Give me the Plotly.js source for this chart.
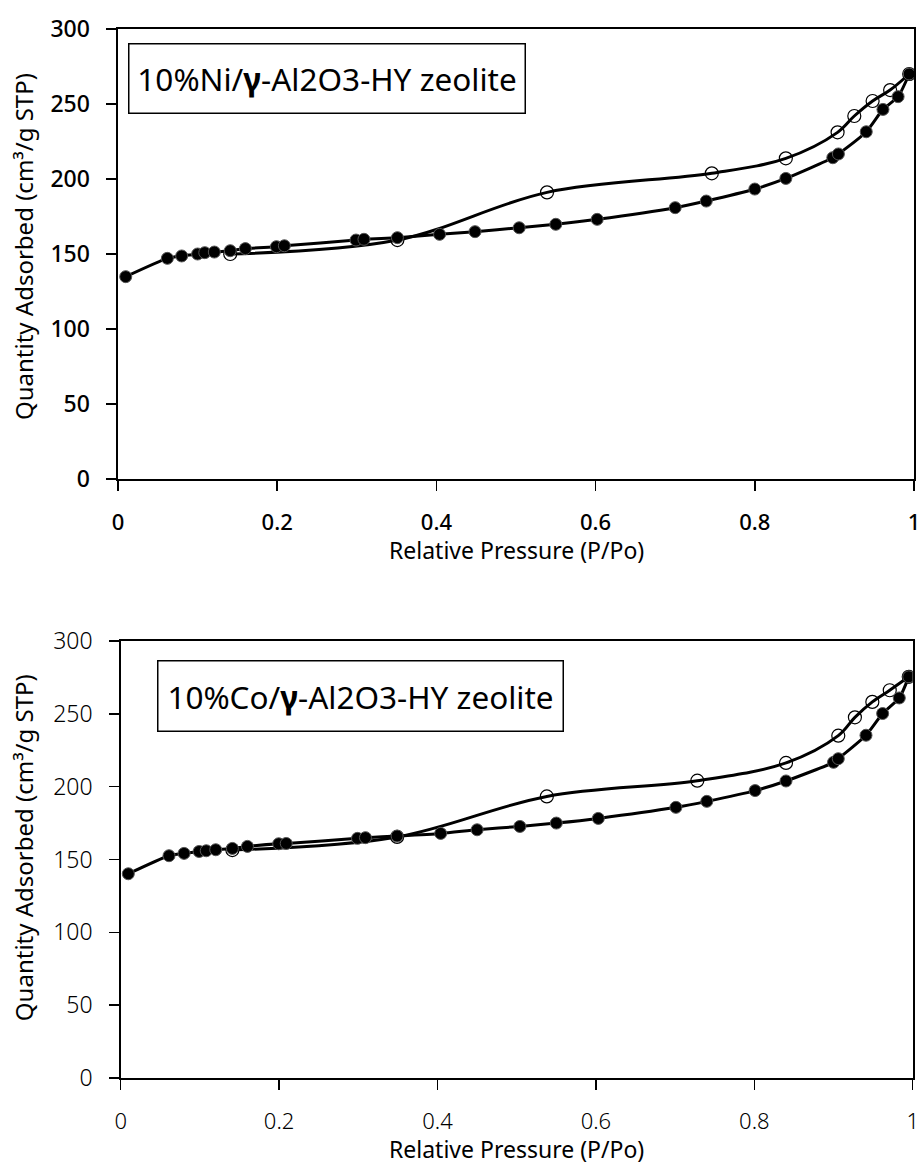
<!DOCTYPE html>
<html>
<head>
<meta charset="utf-8">
<script src="https://cdn.plot.ly/plotly-3.0.1.min.js"></script>
<style>html,body{margin:0;padding:0;background:#fff;}#chart{width:920px;height:1165px;}</style>
</head>
<body>
<div id="chart"></div>
<script>
// ---- Data: 10%Ni/γ-Al2O3-HY zeolite ----
const niAdsX = [0.0097,0.062,0.080,0.100,0.109,0.121,0.141,0.160,0.199,0.209,0.299,0.309,0.351,0.404,0.4485,0.504,0.550,0.602,0.700,0.739,0.800,0.839,0.898,0.905,0.940,0.961,0.980,0.994];
const niAdsY = [134.9,147.1,148.7,150.0,150.9,151.3,152.2,153.6,154.9,155.5,159.3,159.8,160.9,163.1,164.9,167.5,169.8,173.1,180.9,185.3,193.3,200.4,214.2,216.7,231.5,246.4,254.9,270.0];
const niDesX = [0.994,0.970,0.948,0.925,0.904,0.839,0.746,0.539,0.351,0.141];
const niDesY = [270.0,259.3,252.0,242.0,231.1,213.8,203.8,191.1,159.3,150.0];

// ---- Data: 10%Co/γ-Al2O3-HY zeolite ----
const coAdsX = [0.0096,0.061,0.080,0.099,0.108,0.120,0.141,0.160,0.1995,0.209,0.299,0.309,0.349,0.404,0.450,0.504,0.550,0.603,0.701,0.740,0.801,0.840,0.900,0.906,0.941,0.962,0.983,0.995];
const coAdsY = [140.2,152.6,154.2,155.5,156.0,156.7,157.6,159.0,160.8,161.0,164.5,165.0,166.1,167.9,170.4,172.7,175.0,178.2,185.8,189.9,197.3,203.9,216.7,219.2,235.3,250.2,260.9,275.4];
const coDesX = [0.995,0.971,0.949,0.927,0.906,0.840,0.728,0.538,0.349,0.141];
const coDesY = [275.4,266.2,258.2,247.6,235.0,216.3,204.1,193.3,165.5,156.5];

const labelNi = '10%Ni/<b>γ</b>-Al2O3-HY zeolite';
const labelCo = '10%Co/<b>γ</b>-Al2O3-HY zeolite';
const xTitle = 'Relative Pressure (P/Po)';
const yTitle = 'Quantity Adsorbed (cm³/g STP)';

const FONT = 'Noto Sans, DejaVu Sans, sans-serif';

function ads(x, y, xa, ya) {
  return {x: x, y: y, xaxis: xa, yaxis: ya, type: 'scatter', mode: 'lines+markers',
    line: {color: '#000', width: 3, shape: 'spline', smoothing: 0.6},
    marker: {symbol: 'circle', size: 12, color: '#000', line: {color: '#555', width: 1}},
    showlegend: false, hoverinfo: 'x+y'};
}
function des(x, y, xa, ya) {
  return {x: x, y: y, xaxis: xa, yaxis: ya, type: 'scatter', mode: 'lines+markers',
    line: {color: '#000', width: 3, shape: 'spline', smoothing: 1},
    marker: {symbol: 'circle-open', size: 13, color: '#000', line: {color: '#000', width: 1.2}},
    showlegend: false, hoverinfo: 'x+y'};
}

const data = [
  des(niDesX, niDesY, 'x', 'y'),
  ads(niAdsX, niAdsY, 'x', 'y'),
  des(coDesX, coDesY, 'x2', 'y2'),
  ads(coAdsX, coAdsY, 'x2', 'y2')
];

function xax(domain, anchor, weight) {
  return {domain: domain, anchor: anchor, range: [0, 1], dtick: 0.2, tick0: 0,
    showgrid: false, zeroline: false, showline: true, linecolor: '#000', linewidth: 2, mirror: true,
    ticks: 'outside', ticklen: 10, tickwidth: 1.5, tickcolor: '#000',
    ticklabelstandoff: 13, ticklabeloverflow: 'allow',
    tickfont: {family: FONT, size: 22, color: '#000', weight: weight}};
}
function yax(domain, anchor, weight) {
  return {domain: domain, anchor: anchor, range: [0, 300], dtick: 50, tick0: 0,
    showgrid: false, zeroline: false, showline: true, linecolor: '#000', linewidth: 2, mirror: true,
    ticks: 'outside', ticklen: 10, tickwidth: 1.5, tickcolor: '#000',
    ticksuffix: '\u2002', ticklabeloverflow: 'allow',
    tickfont: {family: FONT, size: 23, color: '#000', weight: weight}};
}

function ttl(text, xref, yref, x, y, angle, size) {
  return {xref: xref, yref: yref, x: x, y: y, xanchor: 'center', yanchor: 'middle',
    text: text, textangle: angle, showarrow: false,
    font: {family: FONT, size: size, color: '#000'}};
}

const layout = {
  width: 920, height: 1165,
  margin: {l: 118, r: 6, t: 29, b: 87},
  paper_bgcolor: '#fff', plot_bgcolor: '#fff',
  xaxis: xax([0, 1], 'y', 500),
  yaxis: yax([0.571, 1], 'x', 500),
  xaxis2: xax([0.0034, 0.9984], 'y2', 300),
  yaxis2: yax([0, 0.4166], 'x2', 300),
  annotations: [
    {xref: 'x domain', yref: 'y domain', x: 0.0126, y: 0.969, xanchor: 'left', yanchor: 'top',
     text: labelNi, showarrow: false, font: {family: FONT, size: 31.5, color: '#000'},
     bordercolor: '#000', borderwidth: 1.5, borderpad: 0, width: 395, height: 68, align: 'center', bgcolor: '#fff'},
    {xref: 'x2 domain', yref: 'y2 domain', x: 0.0458, y: 0.956, xanchor: 'left', yanchor: 'top',
     text: labelCo, showarrow: false, font: {family: FONT, size: 31.5, color: '#000'},
     bordercolor: '#000', borderwidth: 1.5, borderpad: 0, width: 404, height: 69, align: 'center', bgcolor: '#fff'},
    ttl(xTitle, 'x domain', 'y domain', 0.5, -0.157, 0, 23),
    ttl(xTitle, 'x2 domain', 'y2 domain', 0.5, -0.163, 0, 23),
    ttl(yTitle, 'x domain', 'y domain', -0.1185, 0.517, -90, 24),
    ttl(yTitle, 'x2 domain', 'y2 domain', -0.1225, 0.5275, -90, 24)
  ]
};

Plotly.newPlot('chart', data, layout, {displayModeBar: false, staticPlot: true});
</script>
</body>
</html>
